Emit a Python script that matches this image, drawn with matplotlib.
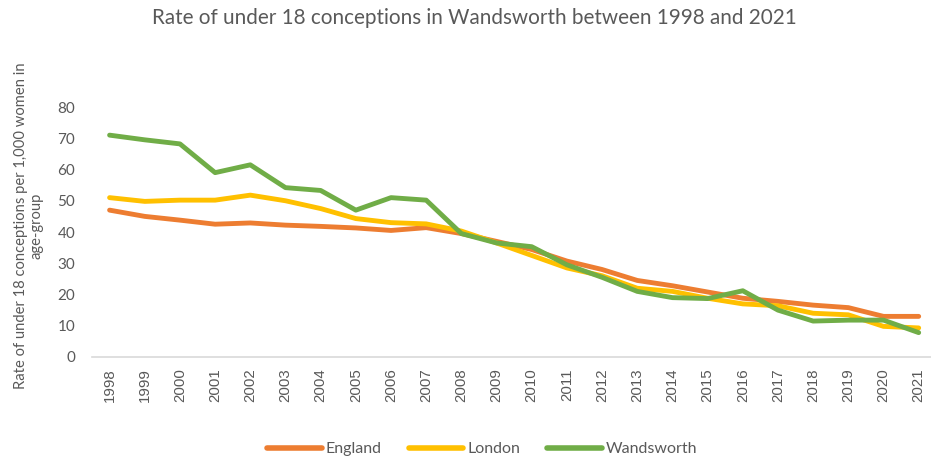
import numpy as np
import matplotlib.pyplot as plt

# Data
years = [str(y) for y in range(1998, 2022)]
england = [47.0, 45.0, 43.8, 42.5, 42.9, 42.2, 41.8, 41.3, 40.5, 41.4, 39.5, 37.0,
           34.4, 30.7, 28.0, 24.5, 22.8, 20.8, 18.8, 17.8, 16.6, 15.8, 13.0, 13.0]
london = [51.0, 49.8, 50.2, 50.2, 51.8, 50.0, 47.5, 44.3, 43.0, 42.6, 40.3, 36.5,
          32.5, 28.5, 26.0, 22.0, 21.0, 18.8, 17.0, 16.4, 14.0, 13.5, 9.8, 9.3]
wandsworth = [71.0, 69.5, 68.2, 59.0, 61.5, 54.2, 53.3, 47.0, 51.0, 50.2, 39.5, 36.5,
              35.3, 29.5, 25.5, 21.0, 19.0, 18.7, 21.2, 15.0, 11.5, 11.8, 11.8, 7.8]

grey = '#595959'
font = 'Lato'

fig = plt.figure(figsize=(9.31, 4.57), dpi=100)
ax = fig.add_axes([92/931, 100/457, 839/931, 265.6/457])

x = np.arange(len(years))
ax.plot(x, england, color='#ED7D31', lw=3.5, label='England', solid_capstyle='round')
ax.plot(x, london, color='#FFC000', lw=3.5, label='London', solid_capstyle='round')
ax.plot(x, wandsworth, color='#70AD47', lw=3.5, label='Wandsworth', solid_capstyle='round')

ax.set_xlim(-0.5, 23.35)
ax.set_ylim(0, 85)
ax.set_yticks(range(0, 81, 10))
ax.set_xticks(x)
ax.set_xticklabels(years, rotation=90, fontsize=10.8, color=grey, family='Liberation Sans')
for lab in ax.get_yticklabels():
    lab.set_family(font)
    lab.set_fontsize(11)
    lab.set_color(grey)
ax.tick_params(axis='both', length=0)
ax.tick_params(axis='y', pad=12)
ax.tick_params(axis='x', pad=8)

for s in ['top', 'right', 'left']:
    ax.spines[s].set_visible(False)
ax.spines['bottom'].set_color('#D9D9D9')
ax.spines['bottom'].set_linewidth(1.2)

ax.set_ylabel('Rate of under 18 conceptions per 1,000 women in\nage-group',
              fontsize=10.6, color=grey, family=font, linespacing=1.15)
ax.yaxis.set_label_coords(-48/839, 0.493)

fig.text(0.51, 0.96, 'Rate of under 18 conceptions in Wandsworth between 1998 and 2021',
         ha='center', va='center', fontsize=14.9, color=grey, family=font)

leg = fig.legend(loc='center', bbox_to_anchor=(0.518, 0.0175), ncol=3, frameon=False,
                 handlelength=3.4, columnspacing=1.7, handletextpad=0.25,
                 prop={'family': font, 'size': 11.5})
for t in leg.get_texts():
    t.set_color(grey)
for h in leg.legend_handles:
    h.set_linewidth(4)

fig.savefig('out.png', dpi=100)
